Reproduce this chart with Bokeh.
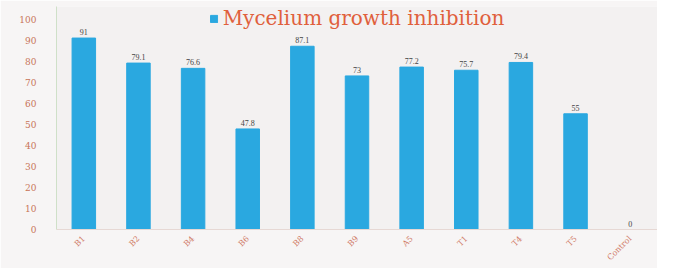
import math
from bokeh.plotting import figure
from bokeh.models import ColumnDataSource, FixedTicker, Legend, LegendItem, LabelSet
from bokeh.embed import file_html
from bokeh.resources import INLINE

categories = ["B1", "B2", "B4", "B6", "B8", "B9", "A5", "T1", "T4", "T5", "Control"]
inhibition = [91, 79.1, 76.6, 47.8, 87.1, 73, 77.2, 75.7, 79.4, 55, 0]
value_labels = ["91", "79.1", "76.6", "47.8", "87.1", "73", "77.2", "75.7", "79.4", "55", "0"]
y_ticks = [0, 10, 20, 30, 40, 50, 60, 70, 80, 90, 100]

src = ColumnDataSource(dict(cat=categories, val=inhibition, lab=value_labels))

p = figure(x_range=categories, y_range=(0, 106), width=657, height=268,
           output_backend="svg", toolbar_location=None,
           background_fill_color="#f3f1f1", border_fill_color="#f7f5f5",
           min_border_left=56, min_border_right=0, min_border_top=6, min_border_bottom=0)
p.outline_line_color = None

r = p.vbar(x="cat", top="val", width=0.43, source=src, color="#2aa8e0")

labels = LabelSet(x="cat", y="val", text="lab", source=src, y_offset=3,
                  text_align="center", text_baseline="bottom",
                  text_font_size="8px", text_color="#444444", text_font="DejaVu Serif")
p.add_layout(labels)

legend = Legend(items=[LegendItem(label="Mycelium growth inhibition", renderers=[r])],
                location="top_center", background_fill_alpha=0, border_line_color=None,
                label_text_font="DejaVu Serif", label_text_font_size="20px",
                label_text_color="#e0603c", glyph_width=9, glyph_height=9,
                padding=0, margin=0, label_standoff=5)
p.add_layout(legend)

p.yaxis.ticker = FixedTicker(ticks=y_ticks)
p.yaxis.axis_line_color = "#cfe0c8"
p.yaxis.major_tick_line_color = None
p.yaxis.minor_tick_line_color = None
p.yaxis.major_label_text_color = "#c87458"
p.yaxis.major_label_text_font = "DejaVu Serif"
p.yaxis.major_label_text_font_size = "9px"
p.yaxis.major_label_standoff = 14

p.xaxis.axis_line_color = "#e6d8d4"
p.xaxis.major_tick_line_color = None
p.xaxis.major_label_orientation = math.pi / 4
p.xaxis.major_label_text_color = "#d07a66"
p.xaxis.major_label_text_font = "DejaVu Serif"
p.xaxis.major_label_text_font_size = "8px"
p.xaxis.major_label_standoff = 2

p.xgrid.grid_line_color = None
p.ygrid.grid_line_color = None

open("out.html", "w").write(file_html(p, INLINE))
